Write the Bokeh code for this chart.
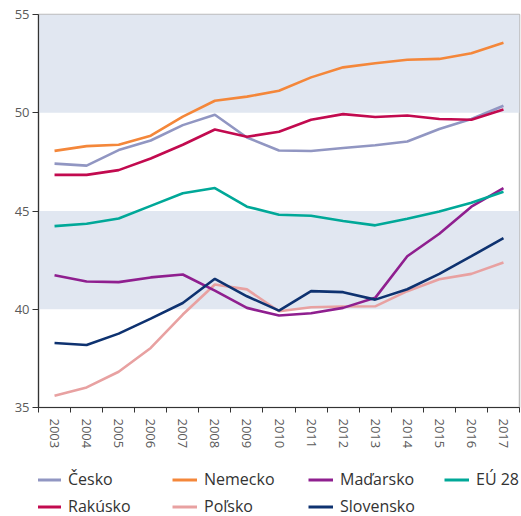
from bokeh.plotting import figure
from bokeh.models import FixedTicker, BoxAnnotation, Legend, LegendItem
from bokeh.layouts import column
from bokeh.embed import file_html
from bokeh.resources import INLINE

years = list(range(2003, 2018))
cesko = [47.41, 47.31, 48.10, 48.59, 49.37, 49.90, 48.74, 48.08, 48.05, 48.21, 48.35, 48.54, 49.17, 49.68, 50.36]
nemecko = [48.06, 48.30, 48.37, 48.83, 49.80, 50.61, 50.82, 51.12, 51.80, 52.31, 52.52, 52.70, 52.74, 53.03, 53.56]
rakusko = [46.84, 46.84, 47.08, 47.67, 48.37, 49.15, 48.78, 49.03, 49.64, 49.93, 49.78, 49.86, 49.68, 49.64, 50.17]
eu28 = [44.23, 44.35, 44.62, 45.26, 45.90, 46.17, 45.22, 44.81, 44.76, 44.49, 44.27, 44.61, 44.98, 45.42, 45.98]
madarsko = [41.73, 41.41, 41.38, 41.62, 41.77, 40.95, 40.07, 39.68, 39.80, 40.07, 40.58, 42.70, 43.84, 45.22, 46.17]
slovensko = [38.28, 38.18, 38.76, 39.52, 40.32, 41.55, 40.66, 39.93, 40.92, 40.87, 40.49, 41.02, 41.80, 42.70, 43.62]
polsko = [35.60, 36.02, 36.82, 38.03, 39.73, 41.26, 41.01, 39.90, 40.10, 40.14, 40.15, 40.92, 41.53, 41.80, 42.38]
y_ticks = [35, 40, 45, 50, 55]

series = [
    ("Česko", cesko, "#9196c2"),
    ("Rakúsko", rakusko, "#c20a4f"),
    ("Nemecko", nemecko, "#f4873a"),
    ("Poľsko", polsko, "#e8a1a1"),
    ("Maďarsko", madarsko, "#8f1f8f"),
    ("Slovensko", slovensko, "#0e3270"),
    ("EÚ 28", eu28, "#00a898"),
]

p = figure(width=521, height=455, output_backend="svg", toolbar_location=None,
           x_range=(years[0] - 0.5, years[-1] + 0.5), y_range=(y_ticks[0], y_ticks[-1]),
           min_border_left=38, min_border_right=2, min_border_top=14, min_border_bottom=48)
p.background_fill_color = "white"
p.border_fill_color = "white"
p.outline_line_color = "#bdbdbd"
p.outline_line_width = 1.5
p.grid.visible = False

for i in (1, 3):
    p.add_layout(BoxAnnotation(bottom=y_ticks[i], top=y_ticks[i + 1],
                               fill_color="#e1e7f1", fill_alpha=1, line_color=None, level="underlay"))

for name, vals, col in series:
    p.line(years, vals, line_color=col, line_width=2.6)

xa = p.xaxis[0]
xa.ticker = FixedTicker(ticks=years, minor_ticks=[y - 0.5 for y in years] + [years[-1] + 0.5])
xa.major_tick_line_color = None
xa.major_tick_out = 0
xa.minor_tick_line_color = "#333333"
xa.minor_tick_out = 5
xa.minor_tick_in = 0
xa.major_label_orientation = "vertical"
xa.major_label_standoff = 6
xa.axis_line_color = "#333333"
xa.axis_line_width = 1.2

ya = p.yaxis[0]
ya.ticker = FixedTicker(ticks=y_ticks)
ya.major_tick_out = 6
ya.major_tick_in = 0
ya.major_tick_line_color = "#333333"
ya.minor_tick_line_color = None
ya.axis_line_color = "#333333"
ya.axis_line_width = 1.2
ya.major_label_standoff = 3

for ax in (xa, ya):
    ax.major_label_text_font = "Open Sans"
    ax.major_label_text_font_size = "13px"
    ax.major_label_text_color = "#5a5a5a"

# legend panel (separate figure below the chart; its lines lie outside its view)
lg = figure(width=521, height=61, output_backend="svg", toolbar_location=None,
            x_range=(0, 1), y_range=(0, 1), min_border=0)
lg.axis.visible = False
lg.grid.visible = False
lg.outline_line_color = None
lg.border_fill_color = "white"
leg_r = {}
for name, vals, col in series:
    leg_r[name] = lg.line(years, vals, line_color=col, line_width=3)

order = ["Česko", "Nemecko", "Maďarsko", "EÚ 28", "Rakúsko", "Poľsko", "Slovensko"]
items = [LegendItem(label=n, renderers=[leg_r[n]]) for n in order]
legend = Legend(items=items, ncols=4, orientation="horizontal", location=(-2, -1),
                label_text_font="Open Sans", label_text_font_size="16px", label_text_color="#333333",
                glyph_width=25, glyph_height=19, label_height=19, label_width=99,
                label_standoff=7, spacing=5, padding=0, margin=0,
                border_line_color=None, background_fill_alpha=0)
lg.add_layout(legend, "center")

open("out.html", "w").write(file_html(column(p, lg, spacing=0), INLINE))
